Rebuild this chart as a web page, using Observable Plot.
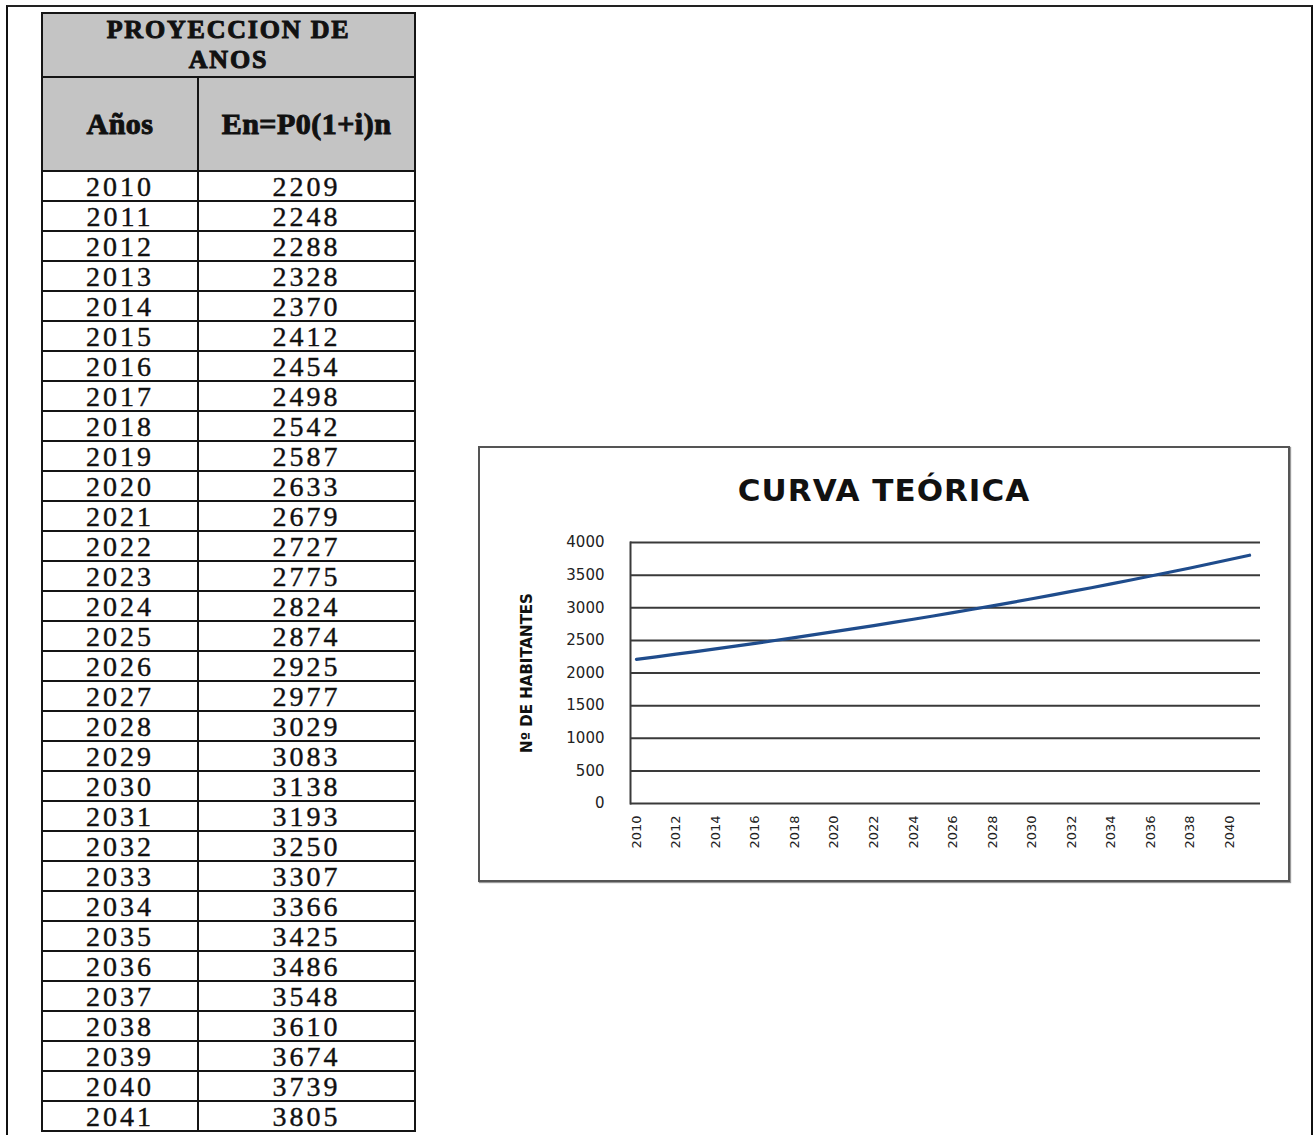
<!DOCTYPE html>
<html>
<head>
<meta charset="utf-8">
<script src="https://cdn.jsdelivr.net/npm/d3@7"></script>
<script src="https://cdn.jsdelivr.net/npm/@observablehq/plot@0.6"></script>
<style>
  html, body { margin: 0; padding: 0; background: #fff; }
  #page { position: relative; width: 1316px; height: 1135px; overflow: hidden; background: #fff; }
  #frame { position: absolute; left: 6px; top: 5px; width: 1303px; height: 1200px;
           border-left: 2px solid #111; border-top: 2px solid #222; border-right: 2px solid #111; }
  #tbl { position: absolute; left: 41px; top: 12px; width: 373px; border-collapse: collapse;
         table-layout: fixed; font-family: "Liberation Serif", "DejaVu Serif", serif; color: #111; }
  #tbl td, #tbl th { border: 2px solid #151515; padding: 0; text-align: center; }
  #tbl th { background: #c4c4c4; font-weight: bold; -webkit-text-stroke: 1px #111; }
  #tbl .h1 th { height: 62px; font-size: 26px; line-height: 30px; letter-spacing: 1.8px; }
  #tbl .h2 th { height: 92px; font-size: 30px; line-height: 32px; letter-spacing: 0.5px; }
  #tbl td { height: 28px; font-size: 28px; line-height: 27px; letter-spacing: 3px;
            -webkit-text-stroke: 0.4px #111; vertical-align: middle; }
  #box { position: absolute; left: 478px; top: 446px; width: 808px; height: 432px;
         border: 2px solid #555; box-shadow: 1px 1px 1px #999; }
  #title { position: absolute; left: 478px; top: 472px; width: 812px; text-align: center;
           font-family: "DejaVu Sans", sans-serif; font-weight: bold; font-size: 31px;
           letter-spacing: 1px; color: #111; }
  #chart { position: absolute; left: 478px; top: 446px; }
</style>
</head>
<body>
<div id="page">
  <div id="frame"></div>
  <table id="tbl">
    <colgroup><col style="width:156px"><col style="width:217px"></colgroup>
    <thead>
      <tr class="h1"><th colspan="2">PROYECCION DE<br>ANOS</th></tr>
      <tr class="h2"><th>Años</th><th>En=P0(1+i)n</th></tr>
    </thead>
    <tbody id="rows"></tbody>
  </table>
  <div id="box"></div>
  <div id="title">CURVA TEÓRICA</div>
  <div id="chart"></div>
</div>
<script>
// Projection years and projected population En = P0(1+i)^n
const years = [2010, 2011, 2012, 2013, 2014, 2015, 2016, 2017, 2018, 2019,
               2020, 2021, 2022, 2023, 2024, 2025, 2026, 2027, 2028, 2029,
               2030, 2031, 2032, 2033, 2034, 2035, 2036, 2037, 2038, 2039,
               2040, 2041];
const population = [2209, 2248, 2288, 2328, 2370, 2412, 2454, 2498, 2542, 2587,
                    2633, 2679, 2727, 2775, 2824, 2874, 2925, 2977, 3029, 3083,
                    3138, 3193, 3250, 3307, 3366, 3425, 3486, 3548, 3610, 3674,
                    3739, 3805];
const yTicks = [0, 500, 1000, 1500, 2000, 2500, 3000, 3500, 4000];
const xTicks = [2010, 2012, 2014, 2016, 2018, 2020, 2022, 2024, 2026, 2028,
                2030, 2032, 2034, 2036, 2038, 2040];
const yLabel = "Nº DE HABITANTES";

const data = years.map((year, i) => ({year, value: population[i]}));

// Table rows
const tbody = document.getElementById("rows");
for (const d of data) {
  const tr = document.createElement("tr");
  const a = document.createElement("td"); a.textContent = d.year;
  const b = document.createElement("td"); b.textContent = d.value;
  tr.append(a, b);
  tbody.append(tr);
}

// Theoretical curve chart
const chart = Plot.plot({
  width: 812,
  height: 436,
  marginLeft: 152,
  marginRight: 30,
  marginTop: 96,
  marginBottom: 79,
  style: {background: "transparent", color: "#222"},
  x: {type: "point", domain: years, padding: 0.3, round: false, insetRight: 5},
  y: {domain: [0, 4000]},
  marks: [
    Plot.gridY(yTicks, {stroke: "#3a3a3a", strokeOpacity: 1, strokeWidth: 2}),
    Plot.frame({anchor: "left", stroke: "#3a3a3a", strokeWidth: 2}),
    Plot.axisY(yTicks, {tickSize: 0, tickPadding: 26, label: null, tickFormat: "d",
      fontSize: 15, fontFamily: "DejaVu Sans", style: {letterSpacing: "3px"}}),
    Plot.axisX(xTicks, {tickSize: 0, tickPadding: 12, tickRotate: -90, label: null,
      tickFormat: "d", fontSize: 13, fontFamily: "DejaVu Sans",
      style: {letterSpacing: "2.5px"}}),
    Plot.text([yLabel], {frameAnchor: "left", textAnchor: "middle", dx: -103, rotate: -90,
      fontSize: 15, fontWeight: "bold", fontFamily: "DejaVu Sans", fill: "#111"}),
    Plot.line(data, {x: "year", y: "value", stroke: "#1f4c8c", strokeWidth: 3.2})
  ]
});
document.getElementById("chart").append(chart);
</script>
</body>
</html>
